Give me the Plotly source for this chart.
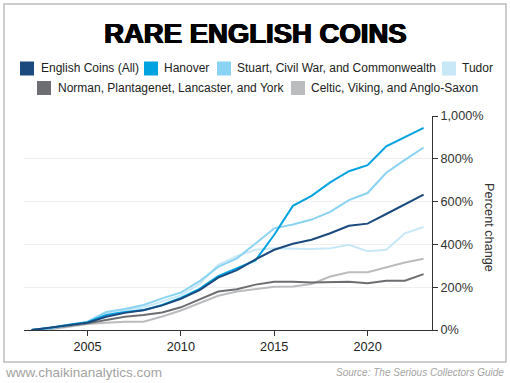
import plotly.graph_objects as go

# ---------------- data ----------------
years = list(range(2002, 2024))

english_all = [0, 10, 22, 34, 62, 80, 92, 115, 146, 186, 245, 280, 330, 375, 403, 422, 452, 487, 497, 542, 588, 633]
hanover     = [0, 10, 24, 36, 70, 84, 93, 117, 150, 192, 252, 288, 325, 445, 580, 627, 690, 742, 770, 858, 900, 945]
stuart      = [0, 8, 23, 39, 84, 98, 117, 148, 175, 228, 295, 335, 404, 475, 493, 516, 552, 607, 640, 735, 795, 853]
tudor       = [0, 8, 22, 35, 75, 95, 105, 135, 162, 215, 305, 345, 375, 382, 380, 378, 382, 398, 368, 375, 452, 481]
norman      = [0, 8, 20, 31, 47, 62, 70, 82, 106, 143, 180, 190, 212, 225, 226, 222, 222, 225, 218, 230, 230, 261]
celtic      = [0, 3, 15, 28, 34, 39, 39, 63, 91, 124, 160, 180, 190, 202, 203, 215, 250, 270, 270, 292, 315, 333]

series_names = [
    "English Coins (All)",
    "Hanover",
    "Stuart, Civil War, and Commonwealth",
    "Tudor",
    "Norman, Plantagenet, Lancaster, and York",
    "Celtic, Viking, and Anglo-Saxon",
]
series_values = [english_all, hanover, stuart, tudor, norman, celtic]
series_colors = ["#1B4A7E", "#00A3E0", "#8AD3F2", "#C8E7F7", "#6D6E71", "#BBBCBE"]

y_ticks = [0, 200, 400, 600, 800, 1000]
y_tick_labels = ["0%", "200%", "400%", "600%", "800%", "1,000%"]
x_ticks = [2005, 2010, 2015, 2020]

title_text = "RARE ENGLISH COINS"
y_title = "Percent change"
footer_left = "www.chaikinanalytics.com"
footer_right = "Source: The Serious Collectors Guide"

# ---------------- layout geometry ----------------
W, H = 510, 383
ML, MR, MT, MB = 24, 78, 116, 53
PW = W - ML - MR
PH = H - MT - MB


def px(xp):
    return (xp - ML) / PW


def py(yp):
    return (H - MB - yp) / PH


FONT = "Liberation Sans, Arial, sans-serif"

fig = go.Figure()

# draw lines (back to front)
draw_order = [5, 4, 3, 2, 1, 0]
for i in draw_order:
    fig.add_trace(go.Scatter(
        x=years, y=series_values[i], mode="lines", name=series_names[i],
        line=dict(color=series_colors[i], width=2), showlegend=False,
        hoverinfo="skip",
    ))

# manual legend (squares + labels), two centred rows
legend_rows = [
    [(0, 20, 40), (1, 144, 163), (2, 217, 236), (3, 442, 461)],
    [(4, 37, 57), (5, 291, 310)],
]
row_centers = [68.5, 88]
shapes = []
annotations = []
for row, yc in zip(legend_rows, row_centers):
    for idx, sq_x, tx_x in row:
        shapes.append(dict(
            type="rect", xref="paper", yref="paper",
            x0=px(sq_x), x1=px(sq_x + 14), y0=py(yc + 7), y1=py(yc - 7),
            fillcolor=series_colors[idx], line=dict(width=0),
        ))
        annotations.append(dict(
            text=series_names[idx], xref="paper", yref="paper",
            x=px(tx_x - 1), y=py(yc), xanchor="left", yanchor="middle",
            showarrow=False, font=dict(family=FONT, size=12, color="#222222"),
        ))

# outer border
shapes.append(dict(
    type="rect", xref="paper", yref="paper",
    x0=px(4), x1=px(506), y0=py(362), y1=py(4),
    line=dict(color="#BDBDBD", width=1.5), fillcolor="rgba(0,0,0,0)", layer="below",
))

# title
annotations.append(dict(
    text=title_text, xref="paper", yref="paper", x=px(255), y=py(33),
    xanchor="center", yanchor="middle", showarrow=False,
    font=dict(family=FONT, size=27.5, color="#000000", weight=700,
              shadow="0.9px 0 0 #000, -0.6px 0 0 #000, 0 0.4px 0 #000"),
))

# y axis title (reads top to bottom)
annotations.append(dict(
    text=y_title, xref="paper", yref="paper", x=px(489), y=py(227),
    xanchor="center", yanchor="middle", showarrow=False, textangle=90,
    font=dict(family=FONT, size=12.7, color="#333333"),
))

# footers
annotations.append(dict(
    text=footer_left, xref="paper", yref="paper", x=px(3), y=py(372),
    xanchor="left", yanchor="middle", showarrow=False,
    font=dict(family=FONT, size=13.5, color="#A3A3A3"),
))
annotations.append(dict(
    text=footer_right, xref="paper", yref="paper", x=px(506), y=py(372.5),
    xanchor="right", yanchor="middle", showarrow=False,
    font=dict(family=FONT, size=10, color="#A3A3A3", style="italic"),
))

fig.update_layout(
    width=W, height=H,
    margin=dict(l=ML, r=MR, t=MT, b=MB, pad=0),
    paper_bgcolor="white", plot_bgcolor="white",
    showlegend=False,
    shapes=shapes, annotations=annotations,
    font=dict(family=FONT, size=12.7, color="#333333"),
    xaxis=dict(
        range=[2001.6, 2023.45], tickvals=x_ticks, ticks="outside", ticklen=5,
        tickcolor="#333333", showline=True, linecolor="#333333", linewidth=1,
        showgrid=False, zeroline=False, fixedrange=True,
        tickfont=dict(family=FONT, size=12.7, color="#222222"),
    ),
    yaxis=dict(
        side="right", range=[0, 1000], tickvals=y_ticks, ticktext=y_tick_labels,
        ticks="outside", ticklen=5, tickcolor="#333333",
        showline=True, linecolor="#333333", linewidth=1,
        showgrid=True, gridcolor="#EFEFEF", gridwidth=1, zeroline=False,
        fixedrange=True,
        tickfont=dict(family=FONT, size=12.7, color="#333333"),
    ),
)

fig.write_html(
    "out.html",
    config={"displayModeBar": False, "staticPlot": True},
    post_script="document.body.style.margin='0';document.body.style.overflow='hidden';",
)
